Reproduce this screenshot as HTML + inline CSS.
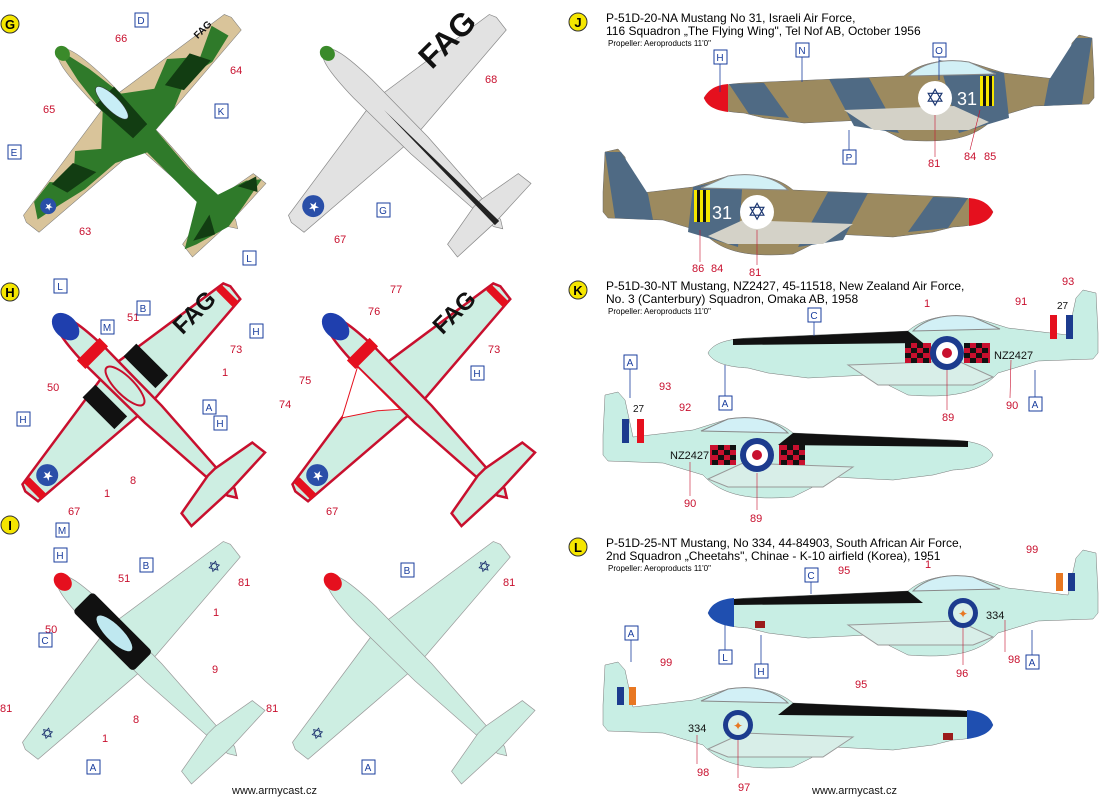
<!DOCTYPE html>
<html><head><meta charset="utf-8"><style>
body{margin:0;background:#fff;width:1100px;height:800px;overflow:hidden;font-family:"Liberation Sans",sans-serif}
svg{display:block}
.r{fill:#c8102e;font-size:11px;font-family:"Liberation Sans",sans-serif}
.b{fill:#1a3e9e;font-size:10px;font-family:"Liberation Sans",sans-serif}
.t{font-size:12px;fill:#000;font-family:"Liberation Sans",sans-serif}
.s{font-size:8px;fill:#000;font-family:"Liberation Sans",sans-serif}
</style></head><body>
<svg width="1100" height="800" viewBox="0 0 1100 800" xmlns="http://www.w3.org/2000/svg">
<defs>
<g id="top">
 <path d="M-13,-22 L-142,-3 L-145,4 L-143,20 L-13,30 L13,30 L143,20 L145,4 L142,-3 L13,-22Z"/>
 <path d="M0,-96 C9,-93 12,-75 13,-40 L12,40 L5,150 L0,158 L-5,150 L-12,40 L-13,-40 C-12,-75 -9,-93 0,-96Z"/>
 <path d="M-5,122 L-50,130 L-52,146 L-5,148 L5,148 L52,146 L50,130 L5,122Z"/>
</g>
<path id="side" d="M0,0 C5,-10 20,-14 40,-15 L200,-22 C215,-35 240,-40 265,-36 L300,-25 L360,-18 L368,-55 L375,-63 L388,-60 L390,-20 L390,0 L385,6 L330,8 L290,20 C270,42 240,45 200,42 L160,22 L100,25 L60,20 L40,15 C20,14 5,10 0,0Z"/>
<path id="canopy" d="M205,-22 C218,-35 240,-40 265,-36 L292,-24Z"/>
<path id="wingu" d="M140,12 L250,8 L285,24 L265,32 L170,32Z"/>
</defs>

<!-- G left camo -->
<g transform="translate(126,117) rotate(-45)">
 <use href="#top" fill="#d9c49a" stroke="#777" stroke-width="0.5"/>
 <path d="M-125,-5 L-100,-8 L-85,10 L-60,-12 L-40,5 L-13,-20 L-8,-60 L0,-96 L8,-60 L13,-20 L40,0 L70,-12 L95,10 L125,-4 L130,15 L100,22 L70,15 L40,28 L12,30 L8,80 L10,120 L40,130 L52,140 L20,146 L-5,150 L-40,140 L-52,135 L-10,110 L-10,40 L-40,25 L-80,22 L-110,15 L-135,10Z" fill="#2f7a2a"/>
 <path d="M-100,-5 L-70,-5 L-60,18 L-95,12Z M50,5 L90,0 L100,20 L60,22Z M-13,-30 L13,-30 L10,20 L-10,20Z M-40,135 L-10,128 L-20,146Z M30,128 L50,134 L40,146Z" fill="#123d12"/>
 <ellipse cx="0" cy="-20" rx="7" ry="22" fill="#c8eef6" stroke="#333" stroke-width="0.6"/>
 <circle cx="-118" cy="8" r="8" fill="#2a4fa8"/><text x="-118" y="12" font-size="10" fill="#fff" text-anchor="middle">★</text>
 <ellipse cx="0" cy="-90" rx="7" ry="8" fill="#3a8a2a"/>
</g>
<text transform="translate(205,32) rotate(-45)" font-size="10" font-weight="bold" fill="#111" text-anchor="middle">FAG</text>
<!-- G right grey -->
<g transform="translate(391,117) rotate(-45)">
 <use href="#top" fill="#e2e2e2" stroke="#888" stroke-width="0.7"/>
 <circle cx="-118" cy="8" r="11" fill="#2a4fa8"/><text x="-118" y="13" font-size="13" fill="#fff" text-anchor="middle">★</text>
 <ellipse cx="0" cy="-90" rx="7" ry="8" fill="#3a8a2a"/>
 <path d="M0,-10 L3,150 L-3,150Z" fill="#222"/>
</g>
<text transform="translate(455,47) rotate(-45)" font-size="32" font-weight="bold" fill="#111" text-anchor="middle">FAG</text>

<!-- H left -->
<g transform="translate(125,386) rotate(-45)">
 <use href="#top" fill="#cdeee2" stroke="#c8102e" stroke-width="2.5"/>
 <rect x="-38" y="-22" width="18" height="45" fill="#111"/><rect x="20" y="-22" width="18" height="45" fill="#111"/>
 <ellipse cx="0" cy="0" rx="9" ry="26" fill="#cdeee2" stroke="#c8102e" stroke-width="2"/>
 <rect x="-16" y="-52" width="32" height="12" fill="#e5101e"/>
 <ellipse cx="0" cy="-84" rx="11" ry="16" fill="#1f3fae"/>
 <rect x="-140" y="-3" width="8" height="24" fill="#e5101e"/><rect x="132" y="-3" width="8" height="24" fill="#e5101e"/>
 <circle cx="-118" cy="8" r="11" fill="#2a4fa8"/><text x="-118" y="13" font-size="13" fill="#fff" text-anchor="middle">★</text>
</g>
<text transform="translate(200,318) rotate(-45)" font-size="24" font-weight="bold" fill="#111" text-anchor="middle">FAG</text>
<!-- H right -->
<g transform="translate(395,386) rotate(-45)">
 <use href="#top" fill="#cdeee2" stroke="#c8102e" stroke-width="2.5"/>
 <path d="M-13,-40 L-60,-15 L-30,5 L-13,20Z" fill="#fff" stroke="#e5101e"/>
 <rect x="-16" y="-52" width="32" height="12" fill="#e5101e"/>
 <ellipse cx="0" cy="-84" rx="11" ry="16" fill="#1f3fae"/>
 <rect x="-140" y="-3" width="8" height="24" fill="#e5101e"/><rect x="132" y="-3" width="8" height="24" fill="#e5101e"/>
 <circle cx="-118" cy="8" r="11" fill="#2a4fa8"/><text x="-118" y="13" font-size="13" fill="#fff" text-anchor="middle">★</text>
</g>
<text transform="translate(460,318) rotate(-45)" font-size="24" font-weight="bold" fill="#111" text-anchor="middle">FAG</text>

<!-- I left -->
<g transform="translate(125,644) rotate(-45)">
 <use href="#top" fill="#cdeee2" stroke="#999" stroke-width="0.7"/>
 <rect x="-14" y="-60" width="28" height="85" rx="4" fill="#111"/>
 <ellipse cx="0" cy="-15" rx="8" ry="24" fill="#bfe8f0"/>
 <ellipse cx="0" cy="-88" rx="8" ry="10" fill="#e5101e"/>
 <text x="-118" y="14" font-size="16" fill="#1a2f6e" text-anchor="middle">✡</text>
 <text x="118" y="14" font-size="16" fill="#1a2f6e" text-anchor="middle">✡</text>
</g>
<!-- I right -->
<g transform="translate(395,644) rotate(-45)">
 <use href="#top" fill="#cdeee2" stroke="#999" stroke-width="0.7"/>
 <ellipse cx="0" cy="-88" rx="8" ry="10" fill="#e5101e"/>
 <text x="-118" y="14" font-size="16" fill="#1a2f6e" text-anchor="middle">✡</text>
 <text x="118" y="14" font-size="16" fill="#1a2f6e" text-anchor="middle">✡</text>
</g>

<!-- J side views -->
<g transform="translate(704,98)">
 <use href="#side" fill="#9c8a5f" stroke="#666" stroke-width="0.5"/>
 <path d="M25,-14 L60,-15 L85,20 L45,16Z M125,-19 L165,-20 L195,35 L150,28Z M235,-38 L300,-25 L305,20 L255,35Z M345,-18 L372,-60 L388,-60 L378,6 L340,8Z" fill="#4f6a84"/>
 <use href="#canopy" fill="#d2f0f6" stroke="#888"/>
 <use href="#wingu" fill="#d4d2c8"/>
 <path d="M0,0 C5,-10 14,-13 24,-14 L24,14 C10,12 3,8 0,0Z" fill="#e5101e"/>
 <circle cx="231" cy="0" r="17" fill="#fff"/><text x="231" y="8" font-size="24" fill="#1a3570" text-anchor="middle">✡</text>
 <rect x="276" y="-22" width="14" height="30" fill="#f5e600"/><rect x="279" y="-22" width="3" height="30" fill="#111"/><rect x="285" y="-22" width="3" height="30" fill="#111"/>
 <text x="253" y="7" font-size="18" fill="#fff">31</text>
</g>
<g transform="translate(993,212) scale(-1,1)">
 <use href="#side" fill="#9c8a5f" stroke="#666" stroke-width="0.5"/>
 <path d="M25,-14 L60,-15 L85,20 L45,16Z M125,-19 L165,-20 L195,35 L150,28Z M250,-36 L300,-25 L305,20 L255,35Z M345,-18 L372,-60 L388,-60 L378,6 L340,8Z" fill="#4f6a84"/>
 <use href="#canopy" fill="#d2f0f6" stroke="#888"/>
 <use href="#wingu" fill="#d4d2c8"/>
 <path d="M0,0 C5,-10 14,-13 24,-14 L24,14 C10,12 3,8 0,0Z" fill="#e5101e"/>
 <circle cx="236" cy="0" r="17" fill="#fff"/>
 <rect x="283" y="-22" width="16" height="32" fill="#f5e600"/><rect x="287" y="-22" width="3" height="32" fill="#111"/><rect x="293" y="-22" width="3" height="32" fill="#111"/>
</g>
<text x="757" y="220" font-size="24" fill="#1a3570" text-anchor="middle">✡</text>
<text x="712" y="219" font-size="18" fill="#fff">31</text>

<!-- K side views -->
<g transform="translate(708,353)">
 <use href="#side" fill="#c8eee4" stroke="#777" stroke-width="0.5"/>
 <path d="M25,-14 L200,-22 L215,-10 L25,-8Z" fill="#111"/>
 <use href="#canopy" fill="#d2f0f6" stroke="#888"/>
 <use href="#wingu" fill="#d8eee8" stroke="#999"/>
 <g fill="#c8102e"><rect x="197" y="-10" width="26" height="20"/><rect x="256" y="-10" width="26" height="20"/></g>
 <path d="M197,-10h6v5h-6zM209,-10h6v5h-6zM203,-5h6v5h-6zM215,-5h6v5h-6zM197,0h6v5h-6zM209,0h6v5h-6zM203,5h6v5h-6zM215,5h6v5h-6zM256,-10h6v5h-6zM268,-10h6v5h-6zM262,-5h6v5h-6zM274,-5h6v5h-6zM256,0h6v5h-6zM268,0h6v5h-6zM262,5h6v5h-6zM274,5h6v5h-6z" fill="#111"/>
 <circle cx="239" cy="0" r="17" fill="#1c3b8e"/><circle cx="239" cy="0" r="11" fill="#fff"/><circle cx="239" cy="0" r="5" fill="#c8102e"/>
 <text x="286" y="6" font-size="11" fill="#111">NZ2427</text>
 <rect x="342" y="-38" width="7" height="24" fill="#e5101e"/><rect x="358" y="-38" width="7" height="24" fill="#1c3b8e"/>
</g>
<g transform="translate(993,455) scale(-1,1)">
 <use href="#side" fill="#c8eee4" stroke="#777" stroke-width="0.5"/>
 <path d="M25,-14 L200,-22 L215,-10 L25,-8Z" fill="#111"/>
 <use href="#canopy" fill="#d2f0f6" stroke="#888"/>
 <use href="#wingu" fill="#d8eee8" stroke="#999"/>
 <g fill="#c8102e"><rect x="188" y="-10" width="26" height="20"/><rect x="257" y="-10" width="26" height="20"/></g>
 <path d="M188,-10h6v5h-6zM200,-10h6v5h-6zM194,-5h6v5h-6zM206,-5h6v5h-6zM188,0h6v5h-6zM200,0h6v5h-6zM194,5h6v5h-6zM206,5h6v5h-6zM257,-10h6v5h-6zM269,-10h6v5h-6zM263,-5h6v5h-6zM275,-5h6v5h-6zM257,0h6v5h-6zM269,0h6v5h-6zM263,5h6v5h-6zM275,5h6v5h-6z" fill="#111"/>
 <circle cx="236" cy="0" r="17" fill="#1c3b8e"/><circle cx="236" cy="0" r="11" fill="#fff"/><circle cx="236" cy="0" r="5" fill="#c8102e"/>
 <rect x="349" y="-36" width="7" height="24" fill="#e5101e"/><rect x="364" y="-36" width="7" height="24" fill="#1c3b8e"/>
</g>
<text x="670" y="459" font-size="11" fill="#111">NZ2427</text>
<text x="1057" y="309" font-size="10" fill="#111">27</text><text x="633" y="412" font-size="10" fill="#111">27</text>

<!-- L side views -->
<g transform="translate(708,613)">
 <use href="#side" fill="#c8eee4" stroke="#777" stroke-width="0.5"/>
 <path d="M25,-14 L200,-22 L215,-10 L25,-8Z" fill="#111"/>
 <path d="M0,0 C3,-10 14,-14 26,-15 L26,14 C12,12 3,8 0,0Z" fill="#1f4fb0"/>
 <use href="#canopy" fill="#d2f0f6" stroke="#888"/>
 <use href="#wingu" fill="#d8eee8" stroke="#999"/>
 <rect x="47" y="8" width="10" height="7" fill="#9b1b1b"/>
 <circle cx="255" cy="0" r="15" fill="#1c3b8e"/><circle cx="255" cy="0" r="10" fill="#d8f0ea"/><text x="255" y="5" font-size="12" fill="#e87722" text-anchor="middle">✦</text>
 <text x="278" y="6" font-size="11" fill="#111">334</text>
 <rect x="348" y="-40" width="7" height="18" fill="#e87722"/><rect x="360" y="-40" width="7" height="18" fill="#1c3b8e"/>
</g>
<g transform="translate(993,725) scale(-1,1)">
 <use href="#side" fill="#c8eee4" stroke="#777" stroke-width="0.5"/>
 <path d="M25,-14 L200,-22 L215,-10 L25,-8Z" fill="#111"/>
 <path d="M0,0 C3,-10 14,-14 26,-15 L26,14 C12,12 3,8 0,0Z" fill="#1f4fb0"/>
 <use href="#canopy" fill="#d2f0f6" stroke="#888"/>
 <use href="#wingu" fill="#d8eee8" stroke="#999"/>
 <rect x="40" y="8" width="10" height="7" fill="#9b1b1b"/>
 <circle cx="255" cy="0" r="15" fill="#1c3b8e"/><circle cx="255" cy="0" r="10" fill="#d8f0ea"/>
 <rect x="357" y="-38" width="7" height="18" fill="#e87722"/><rect x="369" y="-38" width="7" height="18" fill="#1c3b8e"/>
</g>
<text x="738" y="730" font-size="12" fill="#e87722" text-anchor="middle">✦</text>
<text x="688" y="732" font-size="11" fill="#111">334</text>

<!-- yellow badges -->
<g font-size="13" font-weight="bold" text-anchor="middle">
<circle cx="10" cy="24" r="9" fill="#f5e600" stroke="#333"/><text x="10" y="29">G</text>
<circle cx="10" cy="292" r="9" fill="#f5e600" stroke="#333"/><text x="10" y="297">H</text>
<circle cx="10" cy="525" r="9" fill="#f5e600" stroke="#333"/><text x="10" y="530">I</text>
<circle cx="578" cy="22" r="9" fill="#f5e600" stroke="#333"/><text x="578" y="27">J</text>
<circle cx="578" cy="290" r="9" fill="#f5e600" stroke="#333"/><text x="578" y="295">K</text>
<circle cx="578" cy="547" r="9" fill="#f5e600" stroke="#333"/><text x="578" y="552">L</text>
</g>
<!-- titles -->
<text class="t" x="606" y="22">P-51D-20-NA Mustang No 31, Israeli Air Force,</text>
<text class="t" x="606" y="35">116 Squadron „The Flying Wing", Tel Nof AB, October 1956</text>
<text class="s" x="608" y="46">Propeller: Aeroproducts 11'0"</text>
<text class="t" x="606" y="290">P-51D-30-NT Mustang, NZ2427, 45-11518, New Zealand Air Force,</text>
<text class="t" x="606" y="303">No. 3 (Canterbury) Squadron, Omaka AB, 1958</text>
<text class="s" x="608" y="314">Propeller: Aeroproducts 11'0"</text>
<text class="t" x="606" y="547">P-51D-25-NT Mustang, No 334, 44-84903, South African Air Force,</text>
<text class="t" x="606" y="560">2nd Squadron „Cheetahs", Chinae - K-10 airfield (Korea), 1951</text>
<text class="s" x="608" y="571">Propeller: Aeroproducts 11'0"</text>
<text x="232" y="794" font-size="11" fill="#111">www.armycast.cz</text>
<text x="812" y="794" font-size="11" fill="#111">www.armycast.cz</text>

<!-- red numbers -->
<g class="r">
<text x="115" y="42">66</text><text x="230" y="74">64</text><text x="43" y="113">65</text><text x="79" y="235">63</text>
<text x="485" y="83">68</text><text x="334" y="243">67</text>
<text x="127" y="321">51</text><text x="230" y="353">73</text><text x="47" y="391">50</text><text x="222" y="376">1</text>
<text x="130" y="484">8</text><text x="104" y="497">1</text><text x="68" y="515">67</text>
<text x="390" y="293">77</text><text x="368" y="315">76</text><text x="488" y="353">73</text><text x="299" y="384">75</text><text x="279" y="408">74</text><text x="326" y="515">67</text>
<text x="118" y="582">51</text><text x="238" y="586">81</text><text x="213" y="616">1</text><text x="45" y="633">50</text><text x="212" y="673">9</text><text x="133" y="723">8</text><text x="102" y="742">1</text><text x="0" y="712">81</text>
<text x="503" y="586">81</text><text x="266" y="712">81</text>
<text x="928" y="167">81</text><text x="964" y="160">84</text><text x="984" y="160">85</text>
<text x="692" y="272">86</text><text x="711" y="272">84</text><text x="749" y="276">81</text>
<text x="1062" y="285">93</text><text x="1015" y="305">91</text><text x="924" y="307">1</text><text x="942" y="421">89</text><text x="1006" y="409">90</text>
<text x="659" y="390">93</text><text x="679" y="411">92</text><text x="684" y="507">90</text><text x="750" y="522">89</text>
<text x="1026" y="553">99</text><text x="838" y="574">95</text><text x="925" y="568">1</text><text x="956" y="677">96</text><text x="1008" y="663">98</text>
<text x="660" y="666">99</text><text x="855" y="688">95</text><text x="738" y="791">97</text><text x="697" y="776">98</text>
</g>
<!-- blue label boxes -->
<g class="b" text-anchor="middle">
<rect x="135" y="13" width="13" height="14" fill="#fff" stroke="#1a3e9e"/><text x="141" y="24">D</text>
<rect x="215" y="104" width="13" height="14" fill="#fff" stroke="#1a3e9e"/><text x="221" y="115">K</text>
<rect x="8" y="145" width="13" height="14" fill="#fff" stroke="#1a3e9e"/><text x="14" y="156">E</text>
<rect x="377" y="203" width="13" height="14" fill="#fff" stroke="#1a3e9e"/><text x="383" y="214">G</text>
<rect x="243" y="251" width="13" height="14" fill="#fff" stroke="#1a3e9e"/><text x="249" y="262">L</text>
<rect x="54" y="279" width="13" height="14" fill="#fff" stroke="#1a3e9e"/><text x="60" y="290">L</text>
<rect x="137" y="301" width="13" height="14" fill="#fff" stroke="#1a3e9e"/><text x="143" y="312">B</text>
<rect x="250" y="324" width="13" height="14" fill="#fff" stroke="#1a3e9e"/><text x="256" y="335">H</text>
<rect x="101" y="320" width="13" height="14" fill="#fff" stroke="#1a3e9e"/><text x="107" y="331">M</text>
<rect x="203" y="400" width="13" height="14" fill="#fff" stroke="#1a3e9e"/><text x="209" y="411">A</text>
<rect x="17" y="412" width="13" height="14" fill="#fff" stroke="#1a3e9e"/><text x="23" y="423">H</text>
<rect x="214" y="416" width="13" height="14" fill="#fff" stroke="#1a3e9e"/><text x="220" y="427">H</text>
<rect x="56" y="523" width="13" height="14" fill="#fff" stroke="#1a3e9e"/><text x="62" y="534">M</text>
<rect x="471" y="366" width="13" height="14" fill="#fff" stroke="#1a3e9e"/><text x="477" y="377">H</text>
<rect x="54" y="548" width="13" height="14" fill="#fff" stroke="#1a3e9e"/><text x="60" y="559">H</text>
<rect x="140" y="558" width="13" height="14" fill="#fff" stroke="#1a3e9e"/><text x="146" y="569">B</text>
<rect x="39" y="633" width="13" height="14" fill="#fff" stroke="#1a3e9e"/><text x="45" y="644">C</text>
<rect x="87" y="760" width="13" height="14" fill="#fff" stroke="#1a3e9e"/><text x="93" y="771">A</text>
<rect x="401" y="563" width="13" height="14" fill="#fff" stroke="#1a3e9e"/><text x="407" y="574">B</text>
<rect x="362" y="760" width="13" height="14" fill="#fff" stroke="#1a3e9e"/><text x="368" y="771">A</text>
<rect x="714" y="50" width="13" height="14" fill="#fff" stroke="#1a3e9e"/><text x="720" y="61">H</text>
<rect x="796" y="43" width="13" height="14" fill="#fff" stroke="#1a3e9e"/><text x="802" y="54">N</text>
<rect x="933" y="43" width="13" height="14" fill="#fff" stroke="#1a3e9e"/><text x="939" y="54">O</text>
<rect x="843" y="150" width="13" height="14" fill="#fff" stroke="#1a3e9e"/><text x="849" y="161">P</text>
<rect x="808" y="308" width="13" height="14" fill="#fff" stroke="#1a3e9e"/><text x="814" y="319">C</text>
<rect x="719" y="396" width="13" height="14" fill="#fff" stroke="#1a3e9e"/><text x="725" y="407">A</text>
<rect x="1029" y="397" width="13" height="14" fill="#fff" stroke="#1a3e9e"/><text x="1035" y="408">A</text>
<rect x="624" y="355" width="13" height="14" fill="#fff" stroke="#1a3e9e"/><text x="630" y="366">A</text>
<rect x="805" y="568" width="13" height="14" fill="#fff" stroke="#1a3e9e"/><text x="811" y="579">C</text>
<rect x="719" y="650" width="13" height="14" fill="#fff" stroke="#1a3e9e"/><text x="725" y="661">L</text>
<rect x="755" y="664" width="13" height="14" fill="#fff" stroke="#1a3e9e"/><text x="761" y="675">H</text>
<rect x="1026" y="655" width="13" height="14" fill="#fff" stroke="#1a3e9e"/><text x="1032" y="666">A</text>
<rect x="625" y="626" width="13" height="14" fill="#fff" stroke="#1a3e9e"/><text x="631" y="637">A</text>
</g>
<!-- leader lines -->
<g stroke="#1a3e9e" stroke-width="0.8">
<line x1="720" y1="64" x2="720" y2="92"/><line x1="802" y1="57" x2="802" y2="82"/><line x1="939" y1="57" x2="939" y2="80"/><line x1="849" y1="150" x2="849" y2="130"/>
<line x1="814" y1="322" x2="814" y2="336"/><line x1="725" y1="396" x2="725" y2="365"/><line x1="1035" y1="397" x2="1035" y2="370"/><line x1="630" y1="369" x2="630" y2="398"/>
<line x1="811" y1="582" x2="811" y2="594"/><line x1="725" y1="650" x2="725" y2="625"/><line x1="761" y1="664" x2="761" y2="635"/><line x1="1032" y1="655" x2="1032" y2="630"/><line x1="631" y1="640" x2="631" y2="662"/>
</g>
<g stroke="#c8102e" stroke-width="0.6">
<line x1="935" y1="115" x2="935" y2="157"/><line x1="980" y1="110" x2="970" y2="150"/><line x1="757" y1="230" x2="757" y2="265"/><line x1="700" y1="230" x2="700" y2="262"/>
<line x1="947" y1="370" x2="947" y2="410"/><line x1="1011" y1="360" x2="1010" y2="398"/><line x1="757" y1="473" x2="757" y2="510"/><line x1="690" y1="462" x2="690" y2="496"/>
<line x1="963" y1="628" x2="963" y2="665"/><line x1="1005" y1="620" x2="1005" y2="652"/><line x1="738" y1="740" x2="738" y2="778"/><line x1="697" y1="735" x2="697" y2="764"/>
</g>
</svg>
</body></html>
